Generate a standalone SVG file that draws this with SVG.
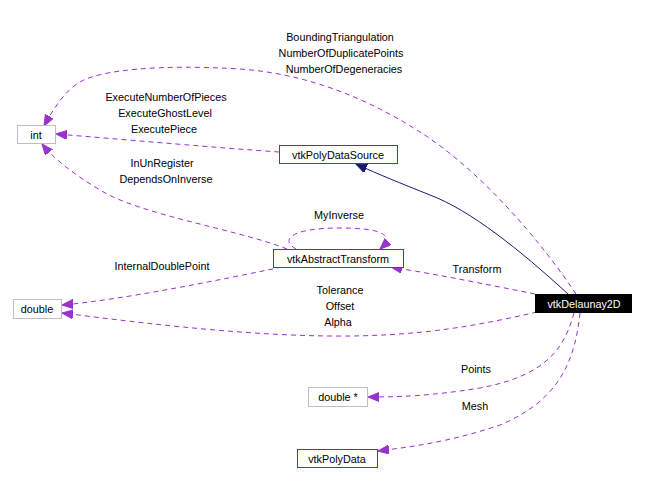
<svg xmlns="http://www.w3.org/2000/svg" width="645" height="484" viewBox="0 0 645 484">
<style>
text{font-family:"Liberation Sans",Arial,sans-serif;font-size:10.8px;fill:#000;text-anchor:middle}
.e{fill:none;stroke:#9a32cd;stroke-width:1;stroke-dasharray:5,4}
.i{fill:none;stroke:#191970;stroke-width:1}
</style>
<defs>
<marker id="ap" markerUnits="userSpaceOnUse" markerWidth="12" markerHeight="10" refX="11" refY="4.5" orient="auto"><path d="M0,0 L11,4.5 L0,9 Z" fill="#9a32cd" stroke="#9a32cd"/></marker>
<marker id="an" markerUnits="userSpaceOnUse" markerWidth="12" markerHeight="10" refX="11" refY="4.5" orient="auto"><path d="M0,0 L11,4.5 L0,9 Z" fill="#191970" stroke="#191970"/></marker>
</defs>
<rect width="645" height="484" fill="#fff"/>
<g id="connectors">
<path class="i" d="M568,294 C520,250 470,210 430,195 C400,183 380,175 356,164" marker-end="url(#an)"/>
<path class="e" d="M576,294 C540,240 480,170 420,132 C370,100 310,74 240,69 C160,64 100,70 80,82 C66,90 55,106 44,126" marker-end="url(#ap)"/>
<path class="e" d="M279,152 C220,148 130,140 56,134" marker-end="url(#ap)"/>
<path class="e" d="M287,249 C240,230 140,215 100,190 C75,175 55,160 42,144" marker-end="url(#ap)"/>
<path class="e" d="M296,249 C280,240 290,228 340,228 C390,228 392,238 380,249" marker-end="url(#ap)"/>
<path class="e" d="M282,267 C220,280 120,300 62,305" marker-end="url(#ap)"/>
<path class="e" d="M537,312 C480,325 420,337 330,336 C230,335 120,320 62,313" marker-end="url(#ap)"/>
<path class="e" d="M535,294 C490,285 440,275 391,267" marker-end="url(#ap)"/>
<path class="e" d="M574,313 C565,345 550,375 480,388 C430,396 400,397 368,397" marker-end="url(#ap)"/>
<path class="e" d="M580,313 C575,360 560,400 500,425 C450,442 410,447 378,451" marker-end="url(#ap)"/>
<text x="340" y="41">BoundingTriangulation</text>
<text x="341" y="57">NumberOfDuplicatePoints</text>
<text x="344" y="73">NumberOfDegeneracies</text>
<text x="166" y="101">ExecuteNumberOfPieces</text>
<text x="165" y="117">ExecuteGhostLevel</text>
<text x="164" y="133">ExecutePiece</text>
<text x="162" y="167">InUnRegister</text>
<text x="166" y="183">DependsOnInverse</text>
<text x="339" y="219">MyInverse</text>
<text x="162" y="270">InternalDoublePoint</text>
<text x="340" y="294">Tolerance</text>
<text x="340" y="310">Offset</text>
<text x="338" y="326">Alpha</text>
<text x="477" y="273">Transform</text>
<text x="476" y="373">Points</text>
<text x="475" y="410">Mesh</text>
</g>
<g id="int"><rect fill="#ffffff" stroke="#bfbfbf" x="17.5" y="125.5" width="38" height="18"/><text x="36" y="138.5">int</text></g>
<g id="vtkPolyDataSource"><rect fill="#ffffff" stroke="#ff0000" x="279.5" y="145.5" width="118" height="18"/><text x="338" y="158.5">vtkPolyDataSource</text></g>
<g id="vtkAbstractTransform"><rect fill="#ffffff" stroke="#ff0000" x="273.5" y="249.5" width="130" height="18"/><text x="338" y="262.5">vtkAbstractTransform</text></g>
<g id="double"><rect fill="#ffffff" stroke="#bfbfbf" x="13.5" y="299.5" width="48" height="19"/><text x="37" y="312.5">double</text></g>
<g id="vtkDelaunay2D"><rect x="535" y="294" width="97" height="19" fill="#000000"/><text x="584" y="307.5" style="fill:#fff">vtkDelaunay2D</text></g>
<g id="doubleptr"><rect fill="#ffffff" stroke="#bfbfbf" x="308.5" y="387.5" width="59" height="19"/><text x="338" y="400.5">double *</text></g>
<g id="vtkPolyData"><rect fill="#ffffff" stroke="#ff0000" x="297.5" y="449.5" width="80" height="18"/><text x="337" y="462.5">vtkPolyData</text></g>
</svg>
